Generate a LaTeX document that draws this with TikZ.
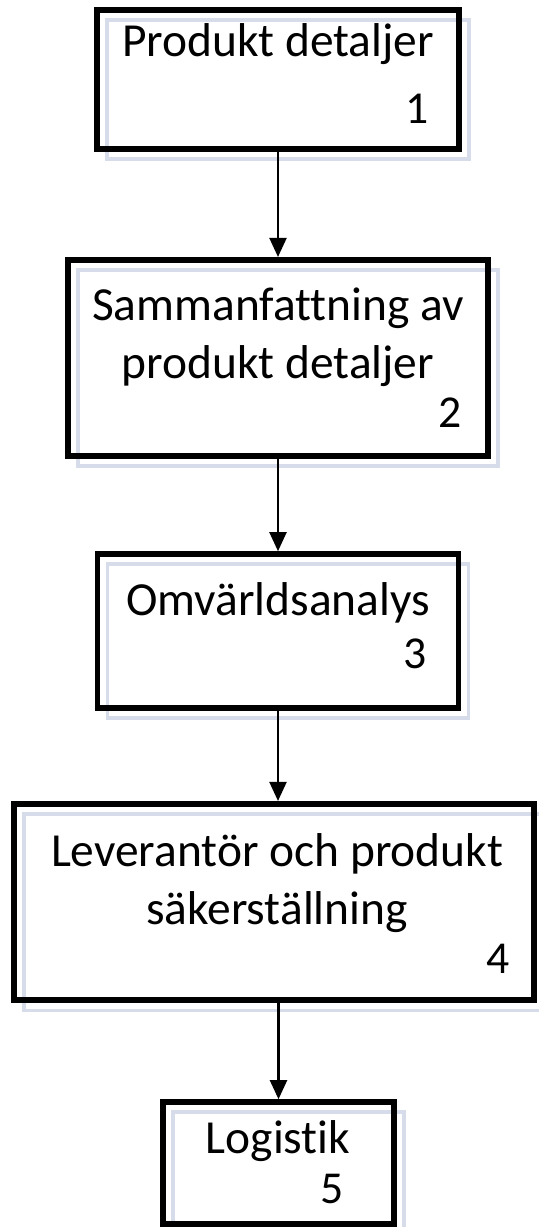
\documentclass[tikz,border=0pt]{standalone}
\usepackage{fontspec}
\setmainfont{Carlito}[Ligatures=NoCommon]
\usetikzlibrary{arrows.meta}
\definecolor{shadowblue}{HTML}{D6DCE9}
\tikzset{
  stage/.style={draw, line width=3.2pt, inner sep=0pt,
    preaction={draw=shadowblue, line width=2pt, transform canvas={shift={(0.2,-0.2)}}}},
  caption/.style={font=\fontsize{27}{33}\selectfont, align=center, anchor=base},
  stagenum/.style={font=\fontsize{26}{30}\selectfont, anchor=base east},
  flow/.style={line width=1.2pt, -{Triangle[length=3.8mm,width=3.4mm]}}
}
\begin{document}
\begin{tikzpicture}
\useasboundingbox (0,0) rectangle (10.76,-24.54);
\node[stage, minimum width=7.24cm, minimum height=2.78cm] (b1) at (5.56,-1.59) {};
\node[caption] (t1) at (5.56,-1.14) {Produkt detaljer};
\node[stagenum] (n1) at (8.7,-2.48) {1};
\node[stage, minimum width=8.39cm, minimum height=3.93cm] (b2) at (5.56,-7.16) {};
\node[caption] (t2) at (5.56,-7.56) {Sammanfattning av\\produkt detaljer};
\node[stagenum] (n2) at (9.36,-8.54) {2};
\node[stage, minimum width=7.22cm, minimum height=3.08cm] (b3) at (5.56,-12.62) {};
\node[caption] (t3) at (5.56,-12.30) {Omvärldsanalys};
\node[stagenum] (n3) at (8.66,-13.36) {3};
\node[stage, minimum width=10.4cm, minimum height=3.93cm] (b4) at (5.48,-18.04) {};
\node[caption] (t4) at (5.54,-18.48) {Leverantör och produkt\\säkerställning};
\node[stagenum] (n4) at (10.32,-19.46) {4};
\node[stage, minimum width=4.62cm, minimum height=2.44cm] (b5) at (5.57,-23.26) {};
\node[caption] (t5) at (5.56,-23.06) {Logistik};
\node[stagenum] (n5) at (7.0,-24.06) {5};
\draw[flow] (b1.south) -- (b2.north);
\draw[flow] (b2.south) -- (b3.north);
\draw[flow] (b3.south) -- (b3.south |- b4.north);
\draw[flow] (b5.north |- b4.south) -- (b5.north);
\end{tikzpicture}
\end{document}
